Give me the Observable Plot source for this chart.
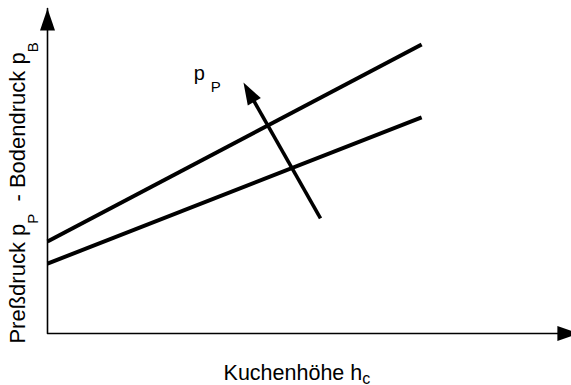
<!DOCTYPE html>
<html><head><meta charset="utf-8">
<script src="https://cdn.jsdelivr.net/npm/d3@7"></script>
<script src="https://cdn.jsdelivr.net/npm/@observablehq/plot@0.6"></script>
<style>body{margin:0;background:#fff} svg{display:block}</style>
</head><body><div id="chart"></div>
<script>
// ---- data (abstract units) ----
const xDomain = [0, 100];
const yDomain = [0, 100];
const lineX = [0, 71.4];
const upperY = [28.3, 88.9];
const lowerY = [21.5, 66.5];
const arrowStart = [52.1, 35.4];
const arrowTip = [37.4, 77.2];
const axisOrigin = [0, 0];
const yAxisTip = [0, 100];
const xAxisTip = [101.5, 0];
const yLabelParts = [{t: "Preßdruck p"}, {t: "P", sub: true}, {t: "  - Bodendruck p"}, {t: "B", sub: true}];
const xLabelParts = [{t: "Kuchenhöhe h"}, {t: "c", sub: true}];
const pLabelParts = [{t: "p"}, {t: "P", sub: true}];
const yLabelPos = [-4.2, -3.1];
const xLabelPos = [33.6, -14.46];
const pLabelPos = [27.9, 78.1];

// ---- layout ----
const W = 571, H = 385, mL = 47, mR = 0, mT = 8, mB = 52;
const sx = d3.scaleLinear(xDomain, [mL, W - mR]);
const sy = d3.scaleLinear(yDomain, [H - mB, mT]);
const headLen = 22, headW = 15;
const arrowHead = {draw(ctx) { ctx.moveTo(0, 0); ctx.lineTo(headW / 2, headLen); ctx.lineTo(-headW / 2, headLen); ctx.closePath(); }};

function headFor(from, to) {
  const dx = sx(to[0]) - sx(from[0]), dy = sy(to[1]) - sy(from[1]);
  const len = Math.hypot(dx, dy);
  const back = headLen - 3;
  const ex = sx(to[0]) - dx / len * back, ey = sy(to[1]) - dy / len * back;
  return {x: to[0], y: to[1], rotate: Math.atan2(dx, -dy) * 180 / Math.PI, end: [sx.invert(ex), sy.invert(ey)]};
}
const heads = [headFor(axisOrigin, yAxisTip), headFor(axisOrigin, xAxisTip), headFor(arrowStart, arrowTip)];
const shaft = [arrowStart, heads[2].end];
const axisPath = [yAxisTip, axisOrigin, xAxisTip];

const font = "Liberation Sans, Arial, Helvetica, sans-serif";
const join = parts => parts.map(p => p.t).join("");

const svg = Plot.plot({
  width: W, height: H,
  marginLeft: mL, marginRight: mR, marginTop: mT, marginBottom: mB,
  x: {domain: xDomain, axis: null},
  y: {domain: yDomain, axis: null},
  style: {fontFamily: font, background: "white", overflow: "hidden"},
  marks: [
    Plot.line(axisPath, {x: d => d[0], y: d => d[1], stroke: "black", strokeWidth: 1.6}),
    Plot.line(lineX.map((x, i) => [x, upperY[i]]), {x: d => d[0], y: d => d[1], stroke: "black", strokeWidth: 4, strokeLinecap: "butt"}),
    Plot.line(lineX.map((x, i) => [x, lowerY[i]]), {x: d => d[0], y: d => d[1], stroke: "black", strokeWidth: 4, strokeLinecap: "butt"}),
    Plot.line(shaft, {x: d => d[0], y: d => d[1], stroke: "black", strokeWidth: 3.6, strokeLinecap: "butt"}),
    Plot.dot(heads, {x: "x", y: "y", rotate: "rotate", symbol: arrowHead, fill: "black", stroke: "none"}),
    Plot.text([{x: yLabelPos[0], y: yLabelPos[1], t: join(yLabelParts)}], {x: "x", y: "y", text: "t", rotate: -90, textAnchor: "start", lineAnchor: "bottom", fontSize: 22, fill: "black"}),
    Plot.text([{x: xLabelPos[0], y: xLabelPos[1], t: join(xLabelParts)}], {x: "x", y: "y", text: "t", textAnchor: "start", lineAnchor: "bottom", fontSize: 21.5, fill: "black"}),
    Plot.text([{x: pLabelPos[0], y: pLabelPos[1], t: join(pLabelParts)}], {x: "x", y: "y", text: "t", textAnchor: "start", lineAnchor: "bottom", fontSize: 20, fill: "black"})
  ]
});

// subscript styling (tspans)
const subStyle = new Map([
  [join(yLabelParts), {parts: yLabelParts, size: 15, shift: 13, dx: 0}],
  [join(xLabelParts), {parts: xLabelParts, size: 16, shift: 4, dx: 0}],
  [join(pLabelParts), {parts: pLabelParts, size: 15, shift: 12, dx: 6}]
]);
svg.querySelectorAll("text").forEach(el => {
  const s = subStyle.get(el.textContent);
  if (!s) return;
  while (el.firstChild) el.removeChild(el.firstChild);
  let cur = 0;
  for (const p of s.parts) {
    const ts = document.createElementNS("http://www.w3.org/2000/svg", "tspan");
    ts.textContent = p.t;
    const target = p.sub ? s.shift : 0;
    if (target !== cur) ts.setAttribute("dy", target - cur);
    if (p.sub) { ts.setAttribute("font-size", s.size); if (s.dx) ts.setAttribute("dx", s.dx); }
    cur = target;
    el.appendChild(ts);
  }
  el.setAttribute("style", "white-space: pre");
});
document.getElementById("chart").appendChild(svg);
</script>
</body></html>
